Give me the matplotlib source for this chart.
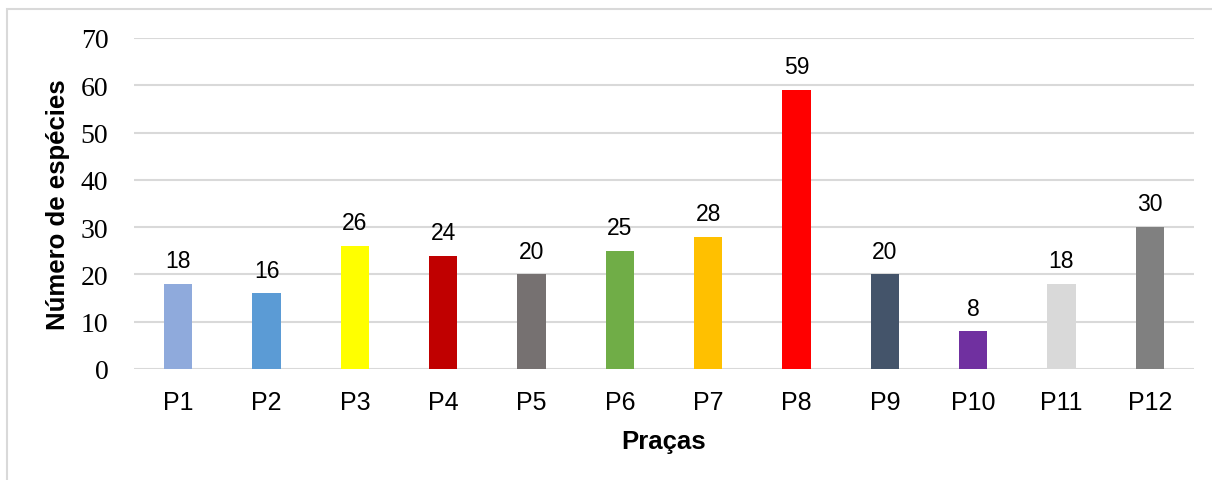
import matplotlib
matplotlib.use("Agg")
import matplotlib.pyplot as plt
from matplotlib.patches import Rectangle

# dados
pracas = ["P1", "P2", "P3", "P4", "P5", "P6", "P7", "P8", "P9", "P10", "P11", "P12"]
especies = [18, 16, 26, 24, 20, 25, 28, 59, 20, 8, 18, 30]
cores = ["#8FAADC", "#5B9BD5", "#FFFF00", "#C00000", "#767171", "#70AD47",
         "#FFC000", "#FF0000", "#44546A", "#7030A0", "#D9D9D9", "#808080"]
y_ticks = [0, 10, 20, 30, 40, 50, 60, 70]

W, H = 1212, 481
fig = plt.figure(figsize=(W / 100, H / 100), dpi=100)

# moldura do gráfico
fig.patches.append(Rectangle((7 / W, -0.1), 1.2, 1.1 - 10 / H, transform=fig.transFigure,
                             fill=False, edgecolor="#D9D9D9", linewidth=1.5))

ax = fig.add_axes([134 / W, 111 / H, (1194 - 134) / W, (370 - 39) / H])

x = list(range(len(pracas)))
bars = ax.bar(x, especies, width=0.32, color=cores, zorder=3)
for b, v in zip(bars, especies):
    ax.annotate(str(v), (b.get_x() + b.get_width() / 2, v), xytext=(0, 12),
                textcoords="offset points", ha="center", va="baseline",
                fontsize=16.5, family="Liberation Sans")

ax.set_xlim(-0.5, len(pracas) - 0.5)
ax.set_ylim(0, 70)
ax.set_yticks(y_ticks)
ax.set_yticklabels([str(t) for t in y_ticks], family="Liberation Serif", fontsize=20)
ax.set_xticks(x)
ax.set_xticklabels(pracas, family="Liberation Sans", fontsize=18)
ax.tick_params(axis="both", length=0)
ax.tick_params(axis="y", pad=18.5)
ax.tick_params(axis="x", pad=15)
ax.grid(axis="y", color="#D9D9D9", linewidth=1.5, zorder=0)
for s in ax.spines.values():
    s.set_visible(False)

ax.set_xlabel("Praças", family="Liberation Sans", fontweight="bold", fontsize=18.5, labelpad=11)
ax.set_ylabel("Número de espécies", family="Liberation Sans", fontweight="bold", fontsize=18.5,
              labelpad=8)

fig.savefig("out.png", dpi=100)
